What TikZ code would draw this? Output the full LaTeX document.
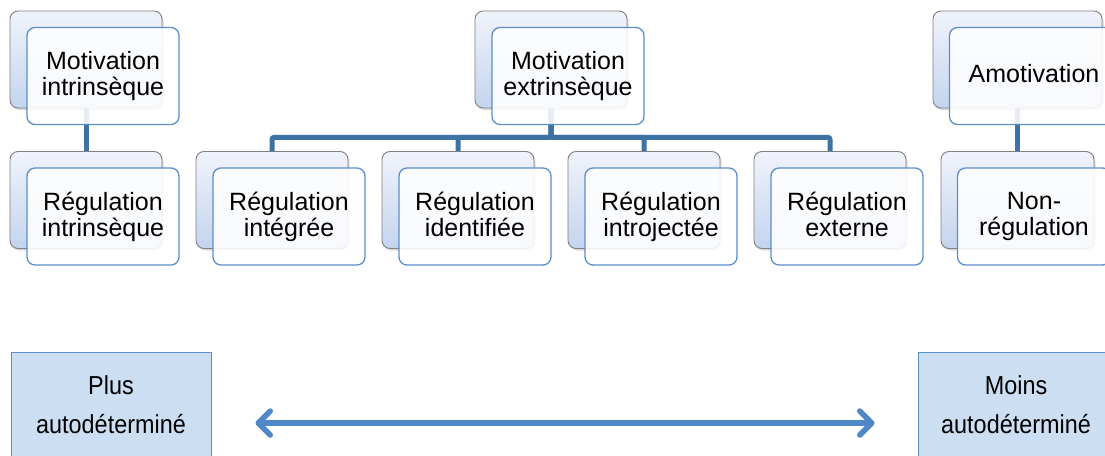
\documentclass[tikz,border=0pt]{standalone}
\usepackage{fontspec}
\setmainfont{Liberation Sans}
\newfontfamily\narrowsans[FakeStretch=0.9]{Liberation Sans}
\usetikzlibrary{shadows,arrows.meta}
\definecolor{backline}{RGB}{128,128,128}
\definecolor{backtop}{RGB}{240,243,251}
\definecolor{backbot}{RGB}{196,212,238}
\definecolor{frontline}{RGB}{91,143,203}
\definecolor{connc}{RGB}{62,114,164}
\definecolor{lowfill}{RGB}{204,223,242}
\definecolor{lowline}{RGB}{91,143,204}
\definecolor{arrowc}{RGB}{79,136,200}
\begin{document}
\begin{tikzpicture}[x=1pt,y=-1pt,
  backbox/.style={draw=backline, line width=0.9pt, rounded corners=8pt,
    top color=backtop, bottom color=backbot, minimum width=152pt,
    minimum height=97pt, inner sep=0pt,
    drop shadow={opacity=0.3, shadow xshift=1.5pt, shadow yshift=-2pt}},
  frontbox/.style={draw=frontline, line width=1.3pt, rounded corners=8pt,
    fill=white, fill opacity=0.88, text opacity=1, minimum width=152pt,
    minimum height=97pt, inner sep=2pt, align=center,
    font=\fontsize{25}{26}\selectfont,
    execute at begin node={\rule{0pt}{18pt}},
    execute at end node={\rule[-5pt]{0pt}{5pt}}},
  connector/.style={draw=connc, line width=5pt, rounded corners=2pt},
  lowbox/.style={draw=lowline, line width=1pt, fill=lowfill,
    minimum width=200pt, minimum height=106pt, align=center,
    font=\narrowsans\fontsize{26}{39}\selectfont},
  dblarrow/.style={draw=arrowc, line width=5.5pt,
    {Straight Barb[length=12pt,width=24pt,round]}-{Straight Barb[length=12pt,width=24pt,round]},
    preaction={draw=black, opacity=0.18, transform canvas={shift={(1.5pt,-2.5pt)}}}}
]
\useasboundingbox (0,0) rectangle (1105,455);
\clip (0,0) rectangle (1105,455);

% back boxes
\node[backbox] (mib) at (86,59.5) {};
\node[backbox] (rib) at (86,200) {};
\node[backbox] (meb) at (551,59.5) {};
\node[backbox] (rgb) at (272,200) {};
\node[backbox] (ridb) at (458,200) {};
\node[backbox] (rijb) at (644,200) {};
\node[backbox] (rexb) at (830,200) {};
\node[backbox, minimum width=169pt] (amb) at (1017.5,59.5) {};
\node[backbox, minimum width=153pt] (nrb) at (1017.5,200) {};

% connectors
\draw[connector] (mib.south) -- (rib.north);
\draw[connector] (amb.south) -- (nrb.north);
\draw[connector] (meb.south) -- ++(0,29) -| (rgb.north);
\draw[connector] (meb.south) -- ++(0,29) -| (ridb.north);
\draw[connector] (meb.south) -- ++(0,29) -| (rijb.north);
\draw[connector] (meb.south) -- ++(0,29) -| (rexb.north);

% front boxes
\node[frontbox] (mi) at (103,76) {Motivation\\intrinsèque};
\node[frontbox] (ri) at (103,216.5) {Régulation\\intrinsèque};
\node[frontbox] (me) at (568,76) {Motivation\\extrinsèque};
\node[frontbox] (rg) at (289,216.5) {Régulation\\intégrée};
\node[frontbox] (rid) at (475,216.5) {Régulation\\identifiée};
\node[frontbox] (rij) at (661,216.5) {Régulation\\introjectée};
\node[frontbox] (rex) at (847,216.5) {Régulation\\externe};
\node[frontbox, minimum width=169pt] (am) at (1034,76) {Amotivation};
\node[frontbox, minimum width=153pt] (nr) at (1034,216.5) {Non-\\régulation};

% bottom
\node[lowbox] (plus) at (111,405) {Plus\\autodéterminé};
\node[lowbox, minimum width=196pt] (moins) at (1016,405) {Moins\\autodéterminé};
\draw[dblarrow, shorten <=44pt, shorten >=43pt]
  ([yshift=-18pt]plus.east) -- ([yshift=-18pt]moins.west);
\end{tikzpicture}
\end{document}
